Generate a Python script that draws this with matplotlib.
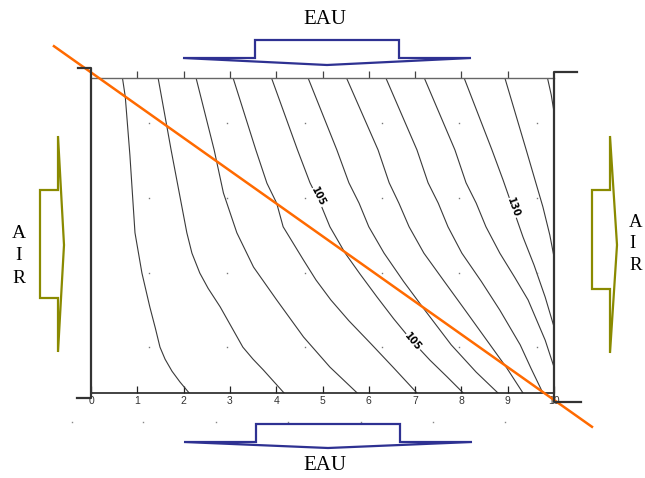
import matplotlib
matplotlib.use('Agg')
import matplotlib.pyplot as plt
from matplotlib.lines import Line2D
from matplotlib.patches import Polygon

# isolines: x on the 0-10 scale, y = height above the bottom edge (same units)
c85_x = [0.68, 0.74, 0.84, 0.95, 1.10, 1.27, 1.39, 1.49, 1.60, 1.75, 1.92, 2.12]
c85_y = [6.80, 6.40, 5.14, 3.46, 2.59, 1.86, 1.40, 0.99, 0.73, 0.47, 0.24, 0.00]
c90_x = [1.45, 1.64, 1.73, 2.07, 2.18, 2.35, 2.53, 2.79, 3.28, 3.50, 3.72, 4.17]
c90_y = [6.80, 5.75, 5.25, 3.46, 3.02, 2.59, 2.26, 1.86, 0.99, 0.73, 0.50, 0.00]
c95_x = [2.27, 2.66, 2.72, 2.86, 3.15, 3.51, 4.01, 4.59, 5.16, 5.75]
c95_y = [6.80, 5.25, 4.97, 4.32, 3.46, 2.72, 2.01, 1.21, 0.56, 0.00]
c100_x = [3.07, 3.56, 3.80, 4.01, 4.15, 4.59, 4.86, 5.18, 5.57, 6.05, 6.54, 7.04]
c100_y = [6.80, 5.25, 4.53, 4.10, 3.59, 2.87, 2.44, 2.01, 1.56, 1.06, 0.54, 0.00]
c105_x = [3.90, 4.46, 4.73, 4.95, 5.16, 5.49, 5.81, 6.18, 6.54, 6.91, 7.32, 7.69, 8.04]
c105_y = [6.80, 5.25, 4.54, 4.10, 3.59, 3.02, 2.57, 2.07, 1.60, 1.15, 0.71, 0.35, 0.00]
c110_x = [4.69, 5.31, 5.57, 5.79, 6.00, 6.33, 6.75, 7.21, 7.78, 8.32, 8.79]
c110_y = [6.80, 5.25, 4.54, 4.10, 3.59, 3.02, 2.41, 1.79, 1.04, 0.45, 0.00]
c115_x = [5.52, 6.20, 6.44, 6.65, 6.87, 7.19, 7.63, 8.08, 8.62, 8.98, 9.33]
c115_y = [6.80, 5.25, 4.54, 4.10, 3.59, 3.02, 2.41, 1.79, 1.04, 0.54, 0.00]
c120_x = [6.37, 7.04, 7.28, 7.50, 7.71, 8.01, 8.43, 8.83, 9.27, 9.50, 9.76]
c120_y = [6.80, 5.25, 4.54, 4.10, 3.59, 3.02, 2.41, 1.79, 1.04, 0.54, 0.00]
c125_x = [7.20, 7.86, 8.10, 8.32, 8.53, 8.83, 9.15, 9.44, 9.81, 10.0]
c125_y = [6.80, 5.25, 4.54, 4.10, 3.59, 3.02, 2.50, 2.01, 1.14, 0.56]
c130_x = [8.06, 8.66, 8.90, 9.11, 9.33, 9.57, 9.81, 10.0]
c130_y = [6.80, 5.25, 4.60, 4.00, 3.37, 2.76, 2.07, 1.43]
c135_x = [8.94, 9.40, 9.59, 9.76, 9.91, 10.0]
c135_y = [6.80, 5.25, 4.60, 4.02, 3.41, 2.94]
c140_x = [9.86, 9.94, 10.0]
c140_y = [6.80, 6.44, 6.07]

iso_lines = [(c85_x, c85_y), (c90_x, c90_y), (c95_x, c95_y), (c100_x, c100_y),
             (c105_x, c105_y), (c110_x, c110_y), (c115_x, c115_y), (c120_x, c120_y),
             (c125_x, c125_y), (c130_x, c130_y), (c135_x, c135_y), (c140_x, c140_y)]

# labels written on the isolines
label_text = ['105', '130', '105']
label_x = [4.90, 9.11, 6.95]
label_y = [4.23, 4.00, 1.10]
label_rot = [-63, -70, -50]

# section line and the grid of measuring points
cut_x = [-0.80, 10.82]
cut_y = [7.49, -0.73]
dots_x = [1.26, 2.93, 4.62, 6.28, 7.955, 9.625]
dots_y = [5.83, 4.22, 2.60, 1.00]
outer_dots_x = [-0.41, 1.12, 2.70, 4.25, 5.83, 7.39, 8.94]
outer_dots_y = -0.63

xticks = list(range(11))
top_ticks = list(range(1, 10))

W, H = 645, 478
blue = '#2e3192'
olive = '#8a8a00'


def fig_xy(pts):
    # pixel positions (from top-left) to figure fractions
    return [(x / W, 1 - y / H) for x, y in pts]


fig = plt.figure(figsize=(W / 100, H / 100), dpi=100)
ax = fig.add_axes([91 / W, (H - 393) / H, 463 / W, 315 / H])
ax.set_xlim(0, 10)
ax.set_ylim(0, 6.803)

for xs, ys in iso_lines:
    ax.plot(xs, ys, color='#3a3a3a', lw=0.8, solid_joinstyle='round')

for t, x, y, r in zip(label_text, label_x, label_y, label_rot):
    ax.text(x, y, t, rotation=r, rotation_mode='anchor', ha='center', va='center',
            fontsize=7, fontweight='bold', family='DejaVu Sans',
            bbox=dict(facecolor='white', edgecolor='none', pad=0.3))

for yv in dots_y:
    ax.plot(dots_x, [yv] * len(dots_x), ls='none', marker='s', ms=1.0,
            color='#777777', mec='none')
ax.plot(outer_dots_x, [outer_dots_y] * len(outer_dots_x), ls='none', marker='s',
        ms=1.0, color='#888888', mec='none', clip_on=False)

ax.plot(cut_x, cut_y, color='#ff6a00', lw=1.8, clip_on=False, zorder=5)

# frame
for s in ['left', 'right']:
    ax.spines[s].set_visible(False)
ax.spines['top'].set_color('#666666')
ax.spines['top'].set_linewidth(1.0)
ax.spines['bottom'].set_color('#222222')
ax.spines['bottom'].set_linewidth(1.2)
ax.set_yticks([])
ax.set_xticks(xticks)
ax.set_xticklabels([str(v) for v in xticks], family='Liberation Sans', fontsize=7.5,
                   color='#333333')
ax.tick_params(axis='x', direction='in', length=5, width=0.9, pad=2.5, color='#222222')

top = ax.secondary_xaxis('top')
top.set_xticks(top_ticks)
top.tick_params(direction='out', length=5, width=0.9, labeltop=False, color='#444444')
top.spines['top'].set_visible(False)

frame_parts = [
    [(78, 68), (91, 68), (91, 398), (77, 398)],
    [(577, 72), (554, 72), (554, 402), (581, 402)],
]
for part in frame_parts:
    pts = fig_xy(part)
    fig.add_artist(Line2D([p[0] for p in pts], [p[1] for p in pts], color='#333333',
                          lw=1.6, transform=fig.transFigure))

# flow arrows
arrows = [
    ([(255, 58), (255, 40), (399, 40), (399, 58), (471, 58), (327, 65), (183, 58)], blue),
    ([(256, 442), (256, 424), (400, 424), (400, 442), (472, 442), (328, 448), (184, 442)], blue),
    ([(58, 190), (40, 190), (40, 298), (58, 298), (58, 352), (64, 245), (58, 136)], olive),
    ([(610, 190), (592, 190), (592, 289), (610, 289), (610, 353), (617, 245), (610, 136)], olive),
]
for pts, col in arrows:
    fig.add_artist(Polygon(fig_xy(pts), closed=True, fill=False, edgecolor=col, lw=1.6,
                           joinstyle='miter', transform=fig.transFigure))

serif = 'Liberation Serif'
fig.text(325 / W, 1 - 20 / H, 'EAU', ha='center', va='center', family=serif, fontsize=15)
fig.text(325 / W, 1 - 466 / H, 'EAU', ha='center', va='center', family=serif, fontsize=15)
fig.text(19 / W, 1 - 256 / H, 'A\nI\nR', ha='center', va='center', multialignment='center',
         family=serif, fontsize=14, linespacing=1.45)
fig.text(629 / W, 1 - 244 / H, 'A\nI\nR', ha='left', va='center', multialignment='left',
         family=serif, fontsize=13.5, linespacing=1.38)

fig.savefig('out.png', dpi=100)
